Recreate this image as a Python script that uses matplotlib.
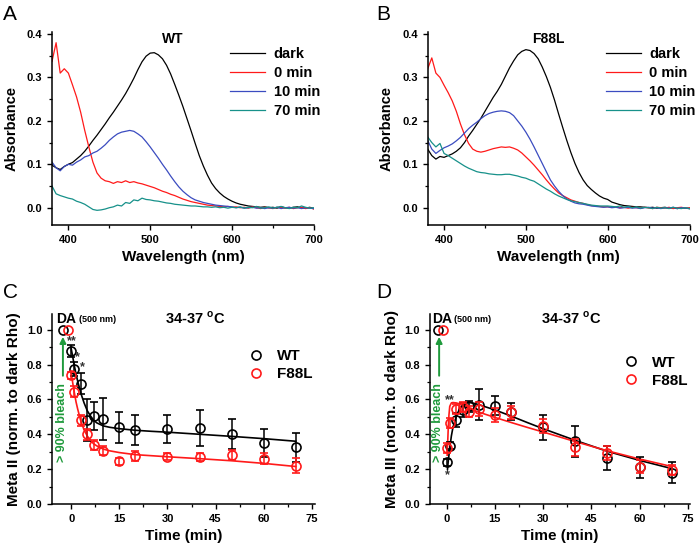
import numpy as np
import matplotlib
matplotlib.use('Agg')
import matplotlib.pyplot as plt
from matplotlib.ticker import MultipleLocator
from matplotlib.lines import Line2D

plt.rcParams['font.family'] = ['Liberation Sans', 'DejaVu Sans']
plt.rcParams['font.weight'] = 'bold'
plt.rcParams['mathtext.fontset'] = 'custom'
plt.rcParams['mathtext.rm'] = 'Liberation Sans:bold'
plt.rcParams['mathtext.bf'] = 'Liberation Sans:bold'

# ---- spectra (A: WT, B: F88L), 380-700 nm every 5 nm ----
wavelength = np.arange(380, 705, 5)

wt_dark = [0.098, 0.092, 0.088, 0.095, 0.100, 0.104, 0.112, 0.120, 0.130, 0.142,
           0.155, 0.167, 0.180, 0.193, 0.207, 0.220, 0.234, 0.248, 0.263, 0.280,
           0.298, 0.318, 0.336, 0.349, 0.356, 0.357, 0.352, 0.343, 0.328, 0.308,
           0.284, 0.259, 0.233, 0.205, 0.177, 0.148, 0.120, 0.096, 0.075, 0.057,
           0.044, 0.034, 0.026, 0.020, 0.015, 0.011, 0.008, 0.006, 0.004, 0.003,
           0.002, 0.001, 0.002, 0.000, 0.001, -0.001, 0.002, 0.000, -0.001, 0.001,
           0.002, 0.000, -0.001, 0.001, -0.002]
wt_0min = [0.337, 0.380, 0.310, 0.320, 0.310, 0.283, 0.255, 0.220, 0.178, 0.140,
           0.105, 0.080, 0.068, 0.062, 0.060, 0.056, 0.060, 0.058, 0.062, 0.058,
           0.060, 0.057, 0.055, 0.052, 0.049, 0.046, 0.042, 0.038, 0.035, 0.031,
           0.028, 0.024, 0.020, 0.017, 0.014, 0.012, 0.010, 0.008, 0.006, 0.005,
           0.004, 0.003, 0.002, 0.003, 0.001, 0.002, 0.000, 0.001, -0.001, 0.002,
           0.000, -0.002, 0.001, 0.000, -0.002, 0.001, 0.000, -0.001, 0.001, -0.002,
           0.000, 0.001, -0.002, 0.000, -0.003]
wt_10min = [0.105, 0.092, 0.085, 0.095, 0.100, 0.098, 0.105, 0.110, 0.117, 0.120,
            0.126, 0.130, 0.137, 0.145, 0.155, 0.163, 0.170, 0.174, 0.176, 0.178,
            0.176, 0.170, 0.163, 0.152, 0.140, 0.127, 0.114, 0.100, 0.087, 0.073,
            0.060, 0.048, 0.038, 0.030, 0.023, 0.018, 0.015, 0.012, 0.010, 0.008,
            0.006, 0.005, 0.004, 0.003, 0.002, 0.000, 0.001, -0.001, 0.000, 0.001,
            -0.001, 0.000, -0.002, 0.000, -0.001, 0.001, -0.002, 0.000, 0.001, -0.001,
            0.000, -0.002, 0.000, -0.001, -0.002]
wt_70min = [0.050, 0.032, 0.028, 0.025, 0.022, 0.020, 0.015, 0.012, 0.008, 0.002,
            -0.004, -0.006, -0.005, -0.003, 0.000, 0.002, 0.006, 0.004, 0.012, 0.010,
            0.018, 0.016, 0.022, 0.019, 0.018, 0.016, 0.015, 0.013, 0.011, 0.010,
            0.008, 0.007, 0.006, 0.005, 0.004, 0.004, 0.003, 0.002, 0.002, 0.001,
            0.002, 0.000, 0.001, -0.001, 0.001, 0.000, 0.002, -0.001, 0.001, 0.000,
            0.003, -0.001, 0.000, 0.002, -0.001, 0.001, 0.003, 0.000, -0.002, 0.001,
            0.000, 0.004, 0.001, -0.001, 0.000]

f88l_dark = [0.135, 0.120, 0.112, 0.118, 0.116, 0.120, 0.124, 0.130, 0.138, 0.150,
             0.165, 0.178, 0.192, 0.206, 0.222, 0.238, 0.254, 0.268, 0.284, 0.303,
             0.322, 0.338, 0.352, 0.360, 0.364, 0.362, 0.355, 0.343, 0.324, 0.302,
             0.277, 0.248, 0.216, 0.185, 0.155, 0.127, 0.102, 0.081, 0.064, 0.051,
             0.042, 0.034, 0.027, 0.022, 0.019, 0.013, 0.010, 0.007, 0.005, 0.004,
             0.003, 0.002, 0.002, 0.001, 0.000, 0.001, -0.001, 0.000, 0.001, -0.001,
             0.000, -0.002, 0.000, -0.001, -0.002]
f88l_0min = [0.320, 0.345, 0.310, 0.300, 0.282, 0.265, 0.246, 0.222, 0.193, 0.168,
             0.148, 0.135, 0.130, 0.128, 0.130, 0.133, 0.136, 0.138, 0.140, 0.139,
             0.140, 0.137, 0.133, 0.126, 0.117, 0.108, 0.098, 0.087, 0.076, 0.064,
             0.053, 0.043, 0.034, 0.028, 0.023, 0.018, 0.015, 0.012, 0.010, 0.007,
             0.005, 0.004, 0.003, 0.002, 0.002, 0.001, 0.002, 0.000, 0.001, -0.001,
             0.001, 0.000, -0.001, 0.001, 0.000, -0.002, 0.001, 0.000, -0.001, 0.001,
             -0.002, 0.000, 0.001, -0.001, 0.000]
f88l_10min = [0.155, 0.135, 0.125, 0.132, 0.138, 0.142, 0.147, 0.154, 0.162, 0.172,
              0.182, 0.190, 0.197, 0.205, 0.212, 0.217, 0.220, 0.222, 0.223, 0.222,
              0.219, 0.212, 0.200, 0.188, 0.174, 0.158, 0.140, 0.121, 0.102, 0.083,
              0.064, 0.050, 0.038, 0.028, 0.020, 0.015, 0.011, 0.009, 0.008, 0.006,
              0.004, 0.003, 0.002, 0.001, 0.002, 0.000, 0.001, -0.001, 0.000, 0.001,
              -0.001, 0.000, -0.002, 0.000, 0.001, -0.001, 0.000, -0.002, 0.000, -0.001,
              0.001, -0.002, 0.000, -0.001, -0.002]
f88l_70min = [0.163, 0.150, 0.140, 0.148, 0.125, 0.120, 0.114, 0.108, 0.102, 0.096,
              0.091, 0.087, 0.083, 0.081, 0.080, 0.078, 0.077, 0.076, 0.076, 0.077,
              0.077, 0.075, 0.073, 0.070, 0.068, 0.064, 0.061, 0.055, 0.049, 0.043,
              0.038, 0.032, 0.027, 0.023, 0.019, 0.016, 0.014, 0.012, 0.010, 0.008,
              0.006, 0.005, 0.004, 0.004, 0.004, 0.003, 0.002, 0.004, 0.001, 0.003,
              0.000, 0.002, -0.001, 0.001, 0.000, -0.002, 0.001, -0.001, 0.000, -0.002,
              0.001, -0.001, -0.002, 0.000, -0.002]

spec_labels = ['dark', '0 min', '10 min', '70 min']
spec_colors = ['black', '#ff1a1a', '#3b4cc0', '#17918a']

# ---- kinetics (C: Meta II, D: Meta III) ----
times = [0, 1, 3, 5, 7, 10, 15, 20, 30, 40, 50, 60, 70]

m2_wt = [0.88, 0.775, 0.69, 0.48, 0.505, 0.49, 0.44, 0.425, 0.43, 0.435, 0.40, 0.35, 0.325]
m2_wt_err = [0.035, 0.04, 0.06, 0.12, 0.08, 0.12, 0.09, 0.085, 0.08, 0.105, 0.085, 0.08, 0.085]
m2_f88l = [0.74, 0.645, 0.48, 0.40, 0.34, 0.305, 0.245, 0.275, 0.27, 0.27, 0.28, 0.26, 0.22]
m2_f88l_err = [0.02, 0.03, 0.03, 0.03, 0.03, 0.025, 0.02, 0.03, 0.02, 0.025, 0.03, 0.03, 0.045]

m3_wt = [0.24, 0.335, 0.48, 0.54, 0.56, 0.57, 0.565, 0.53, 0.44, 0.36, 0.265, 0.21, 0.18]
m3_wt_err = [0.02, 0.02, 0.04, 0.04, 0.03, 0.09, 0.055, 0.05, 0.07, 0.09, 0.07, 0.06, 0.06]
m3_f88l = [0.32, 0.465, 0.545, 0.555, 0.53, 0.545, 0.51, 0.525, 0.445, 0.325, 0.29, 0.215, 0.195]
m3_f88l_err = [0.03, 0.03, 0.03, 0.03, 0.03, 0.04, 0.04, 0.04, 0.04, 0.05, 0.04, 0.04, 0.03]

# dark-adapted reference points (plotted left of t = 0)
da_time_wt, da_time_f88l = -2.5, -1.0
da_value = 1.0

# fitted curves
m2_fit_t = [0, 0.5, 1, 1.5, 2, 3, 4, 5, 6, 7, 8, 10, 12, 15, 20, 25, 30, 40, 50, 60, 70]
m2_fit_wt = [0.89, 0.84, 0.79, 0.745, 0.705, 0.635, 0.58, 0.535, 0.505, 0.48, 0.465,
             0.448, 0.44, 0.432, 0.423, 0.417, 0.412, 0.40, 0.388, 0.375, 0.36]
m2_fit_f88l = [0.75, 0.69, 0.635, 0.585, 0.545, 0.475, 0.425, 0.39, 0.365, 0.345, 0.333,
               0.315, 0.305, 0.295, 0.283, 0.277, 0.271, 0.26, 0.248, 0.233, 0.215]

m3_fit_t_wt = [0.3, 0.5, 1, 1.5, 2, 3, 4, 5, 6, 7, 8, 10, 12, 15, 20, 25, 30, 40, 50, 60, 70]
m3_fit_wt = [0.20, 0.24, 0.32, 0.39, 0.44, 0.50, 0.545, 0.567, 0.578, 0.582, 0.58, 0.57,
             0.558, 0.54, 0.505, 0.468, 0.432, 0.365, 0.302, 0.25, 0.203]
m3_fit_t_f88l = [0.2, 0.5, 0.75, 1, 1.5, 2, 3, 4, 5, 6, 7, 8, 10, 12, 15, 20, 25, 30, 40, 50, 60, 70]
m3_fit_f88l = [0.28, 0.42, 0.51, 0.56, 0.58, 0.582, 0.58, 0.575, 0.566, 0.556, 0.548, 0.54,
               0.528, 0.515, 0.497, 0.468, 0.44, 0.413, 0.358, 0.305, 0.258, 0.215]

GREEN = '#1f9a3c'
RED = '#ff1a1a'


def style_axes(ax, tick_size=8):
    ax.spines['top'].set_visible(False)
    ax.spines['right'].set_visible(False)
    for s in ['left', 'bottom']:
        ax.spines[s].set_linewidth(1.1)
    ax.tick_params(which='major', direction='out', length=3.5, width=1.0, labelsize=tick_size)
    ax.tick_params(which='minor', direction='out', length=2.0, width=0.9)
    for lab in ax.get_xticklabels() + ax.get_yticklabels():
        lab.set_fontweight('bold')


def spectrum_panel(ax, curves, title):
    for y, lab, col in zip(curves, spec_labels, spec_colors):
        ax.plot(wavelength, y, color=col, lw=0.9, label=lab)
    ax.set_xlim(380, 700)
    ax.set_ylim(-0.04, 0.405)
    ax.xaxis.set_major_locator(MultipleLocator(100))
    ax.xaxis.set_minor_locator(MultipleLocator(50))
    ax.yaxis.set_major_locator(MultipleLocator(0.1))
    ax.yaxis.set_minor_locator(MultipleLocator(0.05))
    ax.yaxis.set_major_formatter(plt.FormatStrFormatter('%.1f'))
    ax.set_xlabel('Wavelength (nm)', fontsize=11, fontweight='bold', labelpad=4)
    ax.set_ylabel('Absorbance', fontsize=10.5, fontweight='bold', labelpad=6)
    ax.text(0.462, 0.965, title, transform=ax.transAxes, ha='center', va='center',
            fontsize=10, fontweight='bold')
    ax.legend(loc='upper left', bbox_to_anchor=(0.68, 0.92), frameon=False,
              borderpad=0, borderaxespad=0, handlelength=2.4, handletextpad=0.6,
              labelspacing=0.33, prop={'weight': 'bold', 'size': 10.5})
    style_axes(ax, tick_size=8)


def kinetics_panel(ax, wt, wt_err, f88, f88_err, fit_wt_t, fit_wt, fit_f88_t, fit_f88,
                   ylabel, legend_xy):
    ms, mew = 6.5, 1.2
    ax.plot(fit_wt_t, fit_wt, color='black', lw=1.2, zorder=2)
    ax.plot(fit_f88_t, fit_f88, color=RED, lw=1.2, zorder=2)
    ax.errorbar(times, wt, yerr=wt_err, fmt='o', mfc='none', mec='black', ecolor='black',
                ms=ms, mew=mew, elinewidth=1.1, capsize=3, capthick=1.1, zorder=3)
    ax.errorbar(times, f88, yerr=f88_err, fmt='o', mfc='none', mec=RED, ecolor=RED,
                ms=ms, mew=mew, elinewidth=1.1, capsize=3, capthick=1.1, zorder=4)
    ax.plot([da_time_wt], [da_value], 'o', mfc='none', mec='black', ms=ms, mew=mew)
    ax.plot([da_time_f88l], [da_value], 'o', mfc='none', mec=RED, ms=ms, mew=mew)

    ax.set_ylim(0, 1.09)
    ax.xaxis.set_major_locator(MultipleLocator(15))
    ax.xaxis.set_minor_locator(MultipleLocator(7.5))
    ax.yaxis.set_major_locator(MultipleLocator(0.2))
    ax.yaxis.set_minor_locator(MultipleLocator(0.1))
    ax.yaxis.set_major_formatter(plt.FormatStrFormatter('%.1f'))
    ax.set_xlabel('Time (min)', fontsize=11, fontweight='bold', labelpad=4)
    ax.set_ylabel(ylabel, fontsize=11, fontweight='bold', labelpad=4)

    ax.text(0.545, 0.979, r'34-37 $^{\mathrm{o}}$C', transform=ax.transAxes,
            ha='center', va='center', fontsize=10.5, fontweight='bold')
    ax.text(-4.6, 1.062, 'DA', ha='left', va='center', fontsize=10, fontweight='bold')
    ax.text(2.3, 1.058, '(500 nm)', ha='left', va='center', fontsize=6.5, fontweight='bold')

    handles = [Line2D([], [], ls='none', marker='o', mfc='none', mec='black', ms=ms, mew=mew),
               Line2D([], [], ls='none', marker='o', mfc='none', mec=RED, ms=ms, mew=mew)]
    ax.legend(handles, ['WT', 'F88L'], loc='upper left', bbox_to_anchor=legend_xy,
              frameon=False, borderpad=0, borderaxespad=0, handlelength=1.0,
              handletextpad=0.9, labelspacing=0.25, prop={'weight': 'bold', 'size': 11})
    style_axes(ax, tick_size=8)


fig = plt.figure(figsize=(7.0, 5.49), dpi=100)
ax_a = fig.add_axes([0.0743, 0.590, 0.374, 0.352])
ax_b = fig.add_axes([0.611, 0.590, 0.374, 0.352])
ax_c = fig.add_axes([0.0743, 0.082, 0.3757, 0.346])
ax_d = fig.add_axes([0.614, 0.082, 0.371, 0.346])

spectrum_panel(ax_a, [wt_dark, wt_0min, wt_10min, wt_70min], 'WT')
spectrum_panel(ax_b, [f88l_dark, f88l_0min, f88l_10min, f88l_70min], 'F88L')

kinetics_panel(ax_c, m2_wt, m2_wt_err, m2_f88l, m2_f88l_err,
               m2_fit_t, m2_fit_wt, m2_fit_t, m2_fit_f88l,
               'Meta II (norm. to dark Rho)', (0.745, 0.815))
ax_c.set_xlim(-6, 76)
kinetics_panel(ax_d, m3_wt, m3_wt_err, m3_f88l, m3_f88l_err,
               m3_fit_t_wt, m3_fit_wt, m3_fit_t_f88l, m3_fit_f88l,
               'Meta III (norm. to dark Rho)', (0.745, 0.78))
ax_d.set_xlim(-5.2, 75.5)

# green "bleach" arrows and text
for ax, xa in [(ax_c, -2.6), (ax_d, -2.3)]:
    ax.annotate('', xy=(xa, 0.975), xytext=(xa, 0.72),
                arrowprops=dict(arrowstyle='-|>', color=GREEN, lw=1.4, mutation_scale=9))
    ax.text(xa - 0.2, 0.465, '> 90% bleach', rotation=90, ha='center', va='center',
            color=GREEN, fontsize=9, fontweight='bold')

# significance marks
ax_c.text(0.3, 0.935, '**', ha='center', va='center', fontsize=9, color='#333333')
ax_c.text(2.0, 0.845, '*', ha='center', va='center', fontsize=9, color='#333333')
ax_c.text(3.6, 0.785, '*', ha='center', va='center', fontsize=9, color='#333333')
ax_d.text(1.0, 0.595, '**', ha='center', va='center', fontsize=9, color='#333333')
ax_d.text(0.3, 0.165, '*', ha='center', va='center', fontsize=9, color='#333333')

# panel letters
for letter, x, y in [('A', 0.004, 0.99), ('B', 0.538, 0.99),
                     ('C', 0.004, 0.485), ('D', 0.538, 0.485)]:
    fig.text(x, y, letter, ha='left', va='top', fontsize=15, fontweight='normal')

fig.savefig('out.png', dpi=100)
